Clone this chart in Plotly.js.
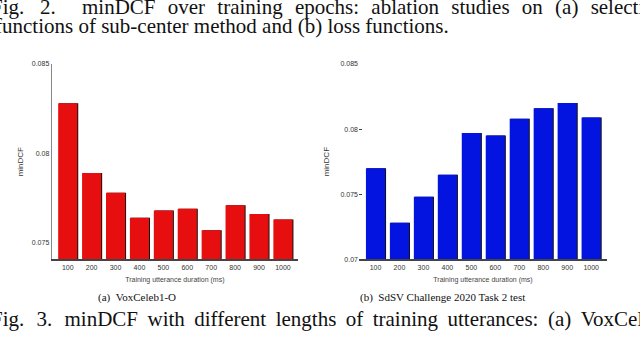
<!DOCTYPE html>
<html>
<head>
<meta charset="utf-8">
<script src="https://cdn.plot.ly/plotly-3.0.1.min.js"></script>
<style>
  html, body { margin: 0; padding: 0; background: #fff; }
  #plot { width: 640px; height: 337px; }
</style>
</head>
<body>
<div id="plot"></div>
<script>
// training utterance durations (ms)
var durations = ["100", "200", "300", "400", "500", "600", "700", "800", "900", "1000"];

// minDCF on VoxCeleb1-O
var voxMinDCF = [0.0828, 0.0789, 0.0778, 0.0764, 0.0768, 0.0769, 0.0757, 0.0771, 0.0766, 0.0763];

// minDCF on SdSV Challenge 2020 Task 2 test
var sdsvMinDCF = [0.0770, 0.0728, 0.0748, 0.0765, 0.0797, 0.0795, 0.0808, 0.0816, 0.0820, 0.0809];

var leftTicks = [0.075, 0.08, 0.085];
var rightTicks = [0.07, 0.075, 0.08, 0.085];

var tickFont = {family: "Liberation Sans, Arial, sans-serif", size: 7, color: "#333"};
var serif = "Liberation Serif, Times New Roman, serif";

// dark shadow bars give the black right edge seen in the figure
function shadow(y, xa, ya) {
  return {
    x: durations, y: y, type: "bar", xaxis: xa, yaxis: ya,
    width: 0.8, offset: -0.36,
    marker: {color: "#111", line: {width: 0}},
    hoverinfo: "skip", showlegend: false
  };
}

var trace1 = {
  x: durations,
  y: voxMinDCF,
  type: "bar",
  width: 0.8, offset: -0.4,
  marker: {color: "#e60e0e", line: {width: 0}},
  showlegend: false
};

var trace2 = {
  x: durations,
  y: sdsvMinDCF,
  type: "bar",
  xaxis: "x2",
  yaxis: "y2",
  width: 0.8, offset: -0.4,
  marker: {color: "#0414e0", line: {width: 0}},
  showlegend: false
};

var data = [shadow(voxMinDCF, "x", "y"), trace1, shadow(sdsvMinDCF, "x2", "y2"), trace2];

// justified caption lines: widen the word gaps like the paper does
var nb = "\u00a0", en = "\u2002", hair = "\u200a", thin = "\u2009";
var gap = nb + nb + hair;
function justify(words, g) { return words.join(g); }

var cap2a = justify(["Fig.", "2."], nb + en) + en + en + nb +
  justify(["minDCF", "over", "training", "epochs:", "ablation", "studies", "on", "(a)", "selection"], gap);
var cap2b = "functions of sub-center method and (b) loss functions.";
var cap3 = justify(["Fig.", "3."], gap) + gap +
  justify(["minDCF", "with", "different", "lengths", "of", "training", "utterances:", "(a)", "VoxCeleb1-O"], nb + thin);

var layout = {
  width: 640,
  height: 337,
  margin: {l: 0, r: 0, t: 0, b: 0},
  paper_bgcolor: "#fff",
  plot_bgcolor: "rgba(0,0,0,0)",
  barmode: "overlay",
  xaxis: {
    domain: [0.0808, 0.4656],
    type: "category",
    range: [-0.67, 9.63],
    showline: true, linewidth: 2, linecolor: "#444",
    ticks: "", showgrid: false, zeroline: false,
    tickfont: tickFont,
    title: {text: "Training utterance duration (ms)", font: {family: tickFont.family, size: 7, color: "#444"}, standoff: 7}
  },
  yaxis: {
    domain: [0.2306, 0.8101],
    range: [0.07407, 0.085],
    tickvals: leftTicks,
    ticktext: leftTicks.map(String),
    showline: true, linewidth: 1, linecolor: "#888",
    ticks: "", showgrid: false, zeroline: false,
    tickfont: tickFont,
    title: {text: "minDCF", font: {family: tickFont.family, size: 8, color: "#333"}, standoff: 6}
  },
  xaxis2: {
    domain: [0.5609, 0.9484],
    anchor: "y2",
    type: "category",
    range: [-0.69, 9.66],
    showline: true, linewidth: 2, linecolor: "#444",
    ticks: "", showgrid: false, zeroline: false,
    tickfont: tickFont,
    title: {text: "Training utterance duration (ms)", font: {family: tickFont.family, size: 7, color: "#444"}, standoff: 7}
  },
  yaxis2: {
    domain: [0.2306, 0.8101],
    anchor: "x2",
    range: [0.07, 0.085],
    tickvals: rightTicks,
    ticktext: ["0.07", "0.075", "0.08", "0.085"],
    showline: false,
    ticks: "inside", ticklen: 3, tickcolor: "#444", tickwidth: 1,
    showgrid: false, zeroline: false,
    tickfont: tickFont,
    title: {text: "minDCF", font: {family: tickFont.family, size: 8, color: "#333"}, standoff: 9}
  },
  annotations: [
    {
      text: cap2a,
      xref: "paper", yref: "paper", x: -11 / 640, y: 1 - 21 / 337,
      xanchor: "left", yanchor: "bottom", showarrow: false,
      font: {family: serif, size: 21, color: "#111"}
    },
    {
      text: cap2b,
      xref: "paper", yref: "paper", x: -7 / 640, y: 1 - 40.5 / 337,
      xanchor: "left", yanchor: "bottom", showarrow: false,
      font: {family: serif, size: 21, color: "#111"}
    },
    {
      text: "(a)" + nb + nb + "VoxCeleb1-O",
      xref: "paper", yref: "paper", x: 137 / 640, y: 1 - 297 / 337,
      xanchor: "center", yanchor: "middle", showarrow: false,
      font: {family: serif, size: 11, color: "#111"}
    },
    {
      text: "(b)" + nb + nb + "SdSV Challenge 2020 Task 2 test",
      xref: "paper", yref: "paper", x: 442 / 640, y: 1 - 297 / 337,
      xanchor: "center", yanchor: "middle", showarrow: false,
      font: {family: serif, size: 11, color: "#111"}
    },
    {
      text: cap3,
      xref: "paper", yref: "paper", x: -11 / 640, y: 1 - 332.5 / 337,
      xanchor: "left", yanchor: "bottom", showarrow: false,
      font: {family: serif, size: 21, color: "#111"}
    }
  ]
};

Plotly.newPlot("plot", data, layout, {staticPlot: true});
</script>
</body>
</html>
